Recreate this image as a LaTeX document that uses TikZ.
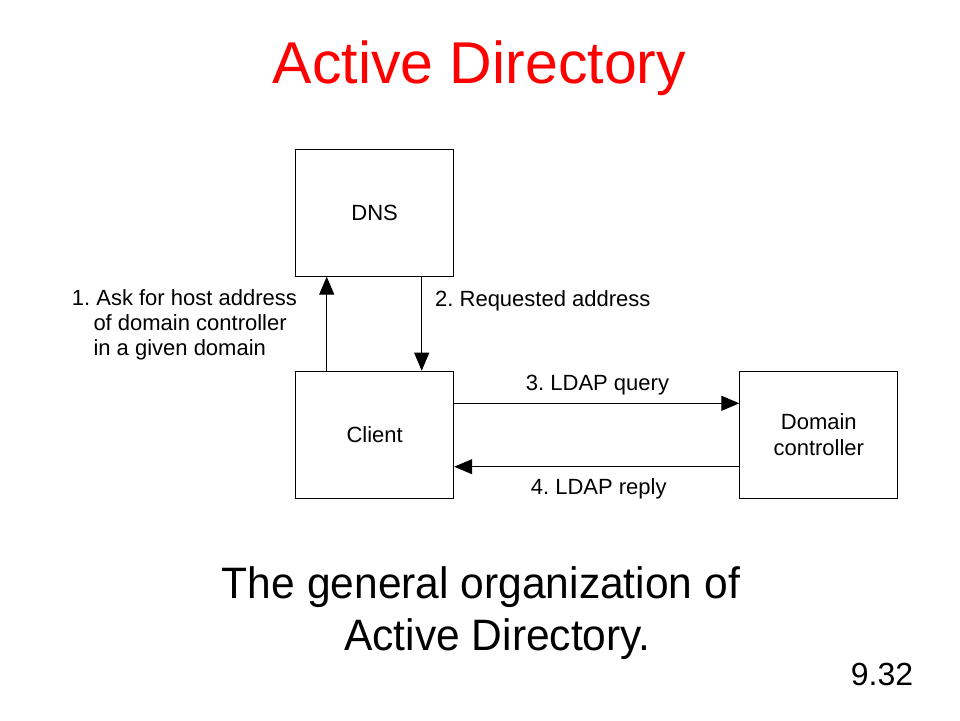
\documentclass[tikz,border=0pt]{standalone}
\usepackage{fontspec}
\setmainfont{Liberation Sans}
\newfontfamily\capfont[FakeStretch=0.967]{Liberation Sans}
\usetikzlibrary{arrows.meta}
\definecolor{titlered}{HTML}{FF0000}
\frenchspacing
\begin{document}
\begin{tikzpicture}[x=1pt,y=-1pt,
  box/.style={draw=black,line width=1pt,minimum width=158pt,minimum height=127pt,inner sep=0pt,
    font=\fontsize{22pt}{25.5pt}\selectfont,align=center},
  lbl/.style={inner sep=0pt,font=\fontsize{22pt}{25pt}\selectfont},
  arr/.style={line width=1pt,-{Triangle[length=18pt,width=15pt]}}]
\useasboundingbox[fill=white] (0,0) rectangle (960,720);
% title
\node[inner sep=0pt,anchor=base,text=titlered,font=\fontsize{59pt}{66pt}\selectfont] (title) at (479.5,83) {Active Directory};
% boxes
\node[box] (DNS) at (374.7,212.6) {DNS};
\node[box] (Client) at (374.7,434.7) {Client};
\node[box] (DC) at (818.8,434.7) {Domain\\controller};
% helper coordinates
\coordinate (a1) at (326.7,0);
\coordinate (a2) at (421.7,0);
\coordinate (a3) at (0,403.3);
\coordinate (a4) at (0,466.7);
% arrows
\draw[arr] (Client.north -| a1) -- (DNS.south -| a1);
\draw[arr] (DNS.south -| a2) -- (Client.north -| a2);
\draw[arr] (Client.east |- a3) -- (DC.west |- a3);
\draw[arr] (DC.west |- a4) -- (Client.east |- a4);
% labels
\node[lbl,anchor=base west] (l1a) at (71.7,305) {1. Ask for host address};
\node[lbl,anchor=base west] (l1b) at (93.3,330) {of domain controller};
\node[lbl,anchor=base west] (l1c) at (93.3,355) {in a given domain};
\node[lbl,anchor=base west] (l2) at (435,306.7) {2. Requested address};
\node[lbl,anchor=base] (l3) at (597.5,390.7) {3. LDAP query};
\node[lbl,anchor=base] (l4) at (598.7,494) {4. LDAP reply};
% caption
\node[inner sep=0pt,anchor=base,font=\capfont\fontsize{44pt}{52pt}\selectfont] (cap1) at (481,598) {The general organization of};
\node[inner sep=0pt,anchor=base west,font=\capfont\fontsize{44pt}{52pt}\selectfont] (cap2) at (344,650) {Active Directory.};
\node[inner sep=0pt,anchor=base west,font=\fontsize{32pt}{36pt}\selectfont] (num) at (850.7,685) {9.32};
\end{tikzpicture}
\end{document}
